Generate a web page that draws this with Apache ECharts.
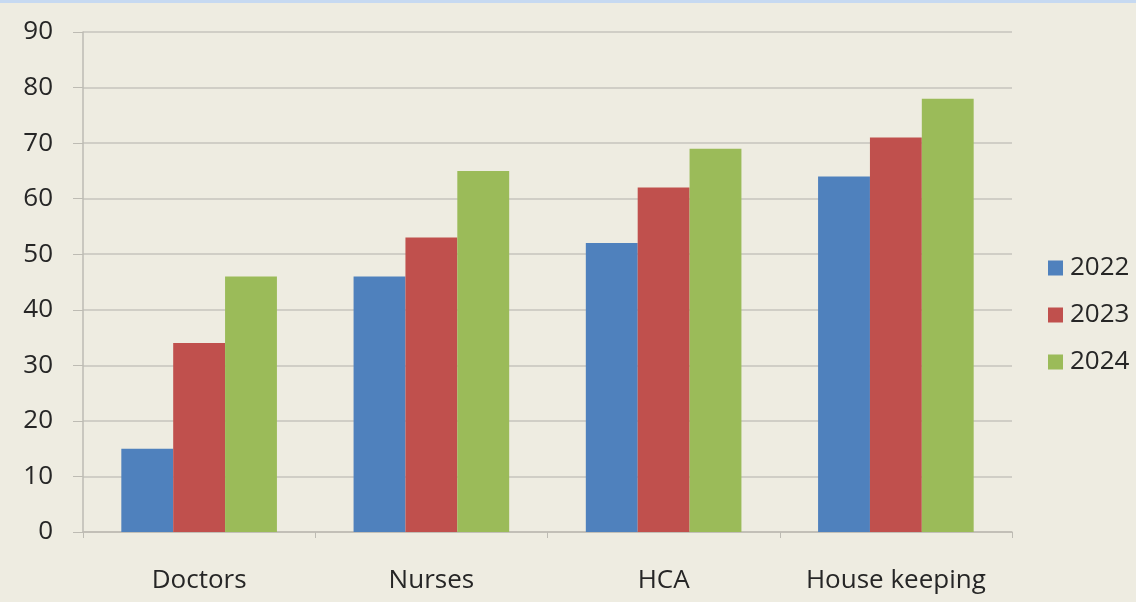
<!DOCTYPE html>
<html>
<head>
<meta charset="utf-8">
<script src="https://cdn.jsdelivr.net/npm/echarts@6/dist/echarts.min.js"></script>
<style>
  html, body { margin: 0; padding: 0; background: #EEECE1; }
  #topbar { position: absolute; left: 0; top: 0; width: 1136px; height: 3px; background: #C6D9F1; }
  #chart { width: 1136px; height: 602px; }
</style>
</head>
<body>
<div id="topbar"></div>
<div id="chart"></div>
<script>
// categories and series values
var categories = ['Doctors', 'Nurses', 'HCA', 'House keeping'];
var years = ['2022', '2023', '2024'];
var values2022 = [15, 46, 52, 64];
var values2023 = [34, 53, 62, 71];
var values2024 = [46, 65, 69, 78];
var colors = ['#4F81BD', '#C0504D', '#9BBB59'];

var chart = echarts.init(document.getElementById('chart'), null, { renderer: 'canvas' });

var textStyle = { fontFamily: 'Open Sans', fontSize: 26, color: '#262626' };

var option = {
  backgroundColor: 'transparent',
  animation: false,
  color: colors,
  grid: { left: 83, right: 124, top: 32, bottom: 70, containLabel: false },
  legend: {
    orient: 'vertical',
    left: 1043,
    top: 250,
    itemWidth: 15,
    itemHeight: 15,
    itemGap: 21,
    icon: 'rect',
    textStyle: Object.assign({ padding: [0, 0, 0, 2] }, textStyle),
    data: years
  },
  xAxis: {
    type: 'category',
    data: categories,
    axisLine: { lineStyle: { color: '#BDBBB3', width: 1.5 } },
    axisTick: { show: true, interval: 0, length: 6, lineStyle: { color: '#BDBBB3' } },
    axisLabel: Object.assign({ margin: 36, interval: 0, hideOverlap: false }, textStyle)
  },
  yAxis: {
    type: 'value',
    min: 0,
    max: 90,
    interval: 10,
    axisLine: { show: true, lineStyle: { color: '#BDBBB3', width: 1.5 } },
    axisTick: { show: true, length: 10, lineStyle: { color: '#BDBBB3' } },
    axisLabel: Object.assign({ margin: 30 }, textStyle),
    splitLine: { lineStyle: { color: '#C6C4BC', width: 1.5 } }
  },
  series: [
    { name: years[0], type: 'bar', data: values2022, barGap: '0%', barCategoryGap: '33%' },
    { name: years[1], type: 'bar', data: values2023, barGap: '0%', barCategoryGap: '33%' },
    { name: years[2], type: 'bar', data: values2024, barGap: '0%', barCategoryGap: '33%' }
  ]
};

chart.setOption(option);
</script>
</body>
</html>
